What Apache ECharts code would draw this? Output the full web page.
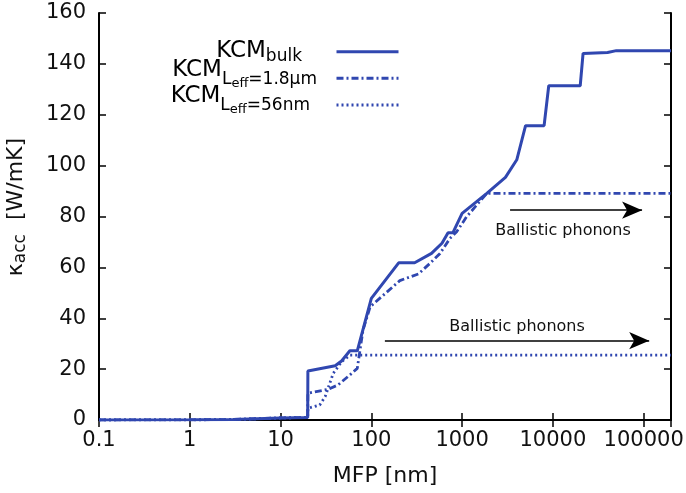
<!DOCTYPE html>
<html>
<head>
<meta charset="utf-8">
<script src="https://cdn.jsdelivr.net/npm/echarts@6/dist/echarts.min.js"></script>
<style>
  html, body { margin: 0; padding: 0; background: #fff; }
  #chart { width: 686px; height: 493px; }
</style>
</head>
<body>
<div id="chart"></div>
<script>
// Accumulated thermal conductivity vs. phonon mean free path (KCM model)
const bulkMfp   = [0.1, 1, 3, 10, 19.9, 20, 40, 47, 58, 70, 100, 200, 300, 460, 600, 700, 790, 1000, 1870, 3000, 4000, 5000, 8000, 9000, 20000, 21500, 40000, 50000, 200000];
const bulkKappa = [0, 0.05, 0.2, 0.8, 1.0, 19.3, 21.3, 23.2, 27.2, 27.2, 47.8, 61.8, 61.8, 65.5, 69.5, 73.6, 73.6, 81.2, 89.1, 95.4, 102.3, 115.7, 115.7, 131.4, 131.4, 144.1, 144.5, 145.2, 145.2];

const leff18Mfp   = [0.1, 1, 3, 10, 19.9, 20, 33.5, 43, 58, 70, 81, 97, 206, 330, 443, 571, 735, 871, 1120, 1870, 200000];
const leff18Kappa = [0, 0.05, 0.2, 0.8, 1.0, 10.5, 12.1, 13.8, 17.7, 20.3, 35.4, 44.5, 54.8, 57.4, 61.6, 65.5, 71.4, 74.0, 79.9, 89.1, 89.1];

const leff56Mfp   = [0.1, 1, 3, 10, 19.9, 20, 27, 31, 38, 47, 58, 200000];
const leff56Kappa = [0, 0.05, 0.2, 0.8, 1.0, 4.6, 5.9, 9.2, 18.3, 22.9, 25.5, 25.5];

// Ballistic-phonon arrows: [start MFP, end MFP, kappa level]
const arrowUpper = [3375, 96000, 82.5];
const arrowLower = [141, 115000, 31.2];
const arrowText = 'Ballistic phonons';

// Key labels (rich text: main text, subscript, sub-subscript)
const keyLabels = [
  '{m|KCM}{s|bulk}',
  '{m|KCM}{l|L}{e|eff}{l|=1.8μm}',
  '{m|KCM}{l|L}{e|eff}{l|=56nm}'
];

const xMin = 0.1, xMax = 200000;
const yMin = 0, yMax = 160, yStep = 20;

const FONT = 'DejaVu Sans';
const BLUE = '#3047b0';
const INK = '#111';

const zip = (xs, ys) => xs.map((x, i) => [x, ys[i]]);

const chart = echarts.init(document.getElementById('chart'), null, { renderer: 'canvas' });

const axisLine = { show: true, lineStyle: { color: '#000', width: 2 } };
const tick = { show: true, inside: true, length: 7, lineStyle: { color: '#000', width: 1.5 } };
const tickLabelStyle = { fontFamily: FONT, fontSize: 21, color: INK };

const keyRich = {
  m: { fontFamily: FONT, fontSize: 23, color: INK, verticalAlign: 'top', lineHeight: 30 },
  s: { fontFamily: FONT, fontSize: 17, color: INK, verticalAlign: 'top', lineHeight: 30, padding: [8, 0, 0, 0] },
  l: { fontFamily: FONT, fontSize: 17, color: INK, verticalAlign: 'top', lineHeight: 30, padding: [12, 0, 0, 0] },
  e: { fontFamily: FONT, fontSize: 13, color: INK, verticalAlign: 'top', lineHeight: 30, padding: [18, 0, 0, 0] }
};
// right edge x and top y of each key label
const keyAnchors = [[302, 40], [317, 59], [310, 85]];

const option = {
  animation: false,
  backgroundColor: '#fff',
  grid: { left: 99, right: 15, top: 13, bottom: 73, containLabel: false, outerBoundsMode: 'none' },
  legend: {
    orient: 'vertical',
    left: 335,
    top: 44.7,
    padding: 0,
    itemWidth: 62,
    itemHeight: 14,
    itemGap: 14,
    data: ['bulk', 'L1.8', 'L56'],
    formatter: () => '',
    itemStyle: { opacity: 0, borderWidth: 0 },
    lineStyle: { width: 3 }
  },
  graphic: keyLabels.map((t, i) => ({
    type: 'text', x: keyAnchors[i][0], y: keyAnchors[i][1], silent: true,
    style: { text: t, rich: keyRich, align: 'right', verticalAlign: 'top', font: '23px "DejaVu Sans"' }
  })),
  xAxis: [
    {
      type: 'log', logBase: 10, min: xMin, max: xMax, position: 'bottom',
      axisLine, axisTick: tick, splitLine: { show: false }, minorTick: { show: false },
      axisLabel: {
        ...tickLabelStyle, margin: 10, showMaxLabel: false,
        formatter: v => (v >= 1 ? String(Math.round(v)) : String(+v.toFixed(1)))
      },
      name: 'MFP [nm]', nameLocation: 'middle', nameGap: 45,
      nameTextStyle: { fontFamily: FONT, fontSize: 22, color: INK }
    },
    {
      type: 'log', logBase: 10, min: xMin, max: xMax, position: 'top',
      axisLine, axisTick: tick, axisLabel: { show: false }, splitLine: { show: false }
    }
  ],
  yAxis: [
    {
      type: 'value', min: yMin, max: yMax, interval: yStep, position: 'left',
      axisLine, axisTick: tick, splitLine: { show: false },
      axisLabel: { ...tickLabelStyle, margin: 13 },
      name: '{g|}{k|κ}{s|acc}{k|  [W/mK]}', nameLocation: 'middle', nameGap: 68,
      nameTextStyle: {
        fontFamily: FONT, fontSize: 22, color: INK,
        rich: {
          g: { width: 19 },
          k: { fontFamily: FONT, fontSize: 22, color: INK, verticalAlign: 'top', lineHeight: 26 },
          s: { fontFamily: FONT, fontSize: 17, color: INK, verticalAlign: 'top', lineHeight: 26, padding: [7, 0, 0, 0] }
        }
      }
    },
    {
      type: 'value', min: yMin, max: yMax, interval: yStep, position: 'right',
      axisLine, axisTick: tick, splitLine: { show: false }, axisLabel: { show: false }
    }
  ],
  series: [
    {
      name: 'bulk', type: 'line', data: zip(bulkMfp, bulkKappa), showSymbol: false, symbol: 'none',
      lineStyle: { color: BLUE, width: 3 }, itemStyle: { color: BLUE }, z: 3,
      markLine: {
        silent: true, symbol: ['none', 'arrow'], symbolSize: [13, 20],
        lineStyle: { color: '#000', width: 1.5, type: 'solid' },
        label: { show: true, formatter: arrowText, fontFamily: FONT, fontSize: 16, color: INK },
        data: [
          [
            { coord: [arrowUpper[0], arrowUpper[2]], label: { position: 'insideMiddleBottom', distance: 13, offset: [-13, 0] } },
            { coord: [arrowUpper[1], arrowUpper[2]] }
          ],
          [
            { coord: [arrowLower[0], arrowLower[2]], label: { position: 'insideMiddleTop', distance: 6 } },
            { coord: [arrowLower[1], arrowLower[2]] }
          ]
        ]
      }
    },
    {
      name: 'L1.8', type: 'line', data: zip(leff18Mfp, leff18Kappa), showSymbol: false, symbol: 'none',
      lineStyle: { color: BLUE, width: 2.8, type: [7, 3, 2, 3] }, itemStyle: { color: BLUE }, z: 2
    },
    {
      name: 'L56', type: 'line', data: zip(leff56Mfp, leff56Kappa), showSymbol: false, symbol: 'none',
      lineStyle: { color: BLUE, width: 2.8, type: [2, 3] }, itemStyle: { color: BLUE }, z: 2
    }
  ]
};

chart.setOption(option);
</script>
</body>
</html>
